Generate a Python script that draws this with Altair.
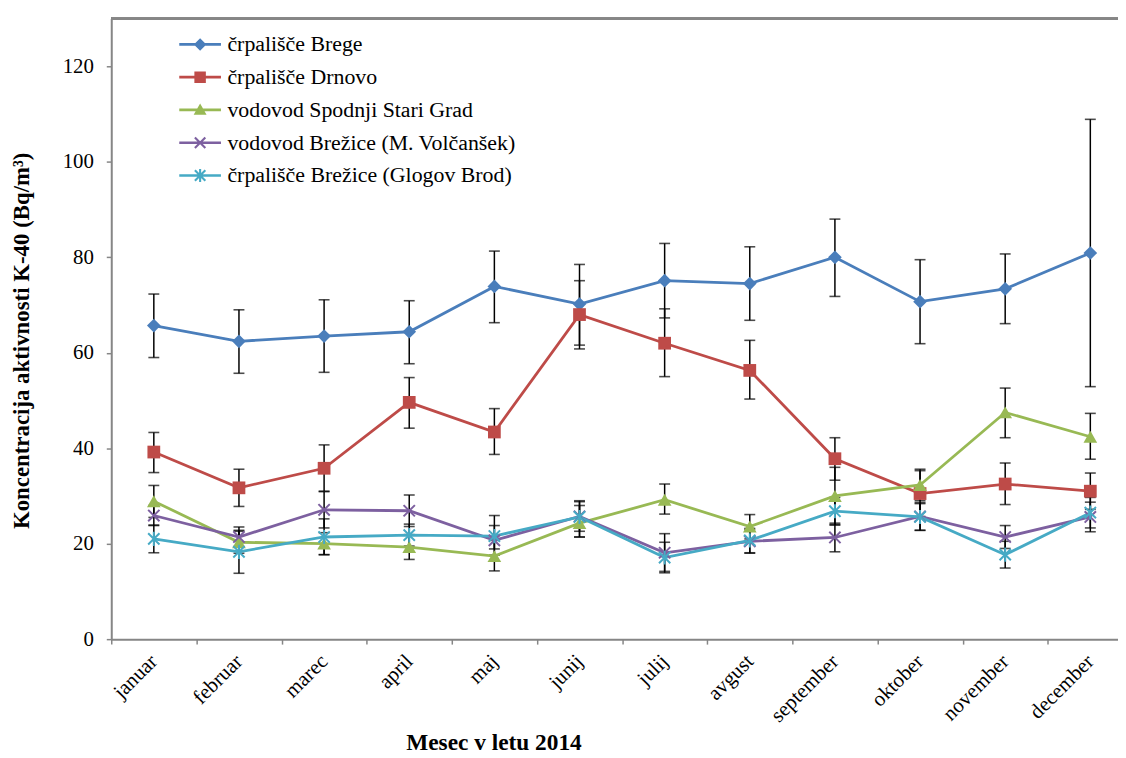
import math
import altair as alt
import pandas as pd

months = ["januar", "februar", "marec", "april", "maj", "junij", "julij",
          "avgust", "september", "oktober", "november", "december"]
series = ["črpališče Brege", "črpališče Drnovo", "vodovod Spodnji Stari Grad",
          "vodovod Brežice (M. Volčanšek)", "črpališče Brežice (Glogov Brod)"]
colors = ["#4A7EBB", "#BE4B48", "#98B954", "#7D60A0", "#46AAC5"]

brege = [65.7, 62.4, 63.5, 64.4, 73.9, 70.2, 75.1, 74.5, 80.0, 70.7, 73.4, 80.9]
brege_lo = [59.0, 55.7, 55.9, 57.7, 66.3, 61.6, 67.3, 66.8, 71.8, 61.9, 66.1, 52.9]
brege_hi = [72.3, 69.0, 71.1, 70.9, 81.3, 78.5, 82.9, 82.2, 88.0, 79.5, 80.7, 108.9]

drnovo = [39.2, 31.7, 35.8, 49.6, 43.4, 68.0, 62.0, 56.3, 37.8, 30.5, 32.5, 31.0]
drnovo_lo = [34.9, 27.8, 31.0, 44.2, 38.7, 60.8, 55.0, 50.3, 33.3, 25.7, 28.2, 27.2]
drnovo_hi = [43.3, 35.6, 40.7, 54.8, 48.3, 75.1, 69.2, 62.6, 42.2, 35.3, 36.9, 34.8]

ssg = [28.9, 20.3, 20.0, 19.3, 17.4, 24.3, 29.2, 23.6, 30.0, 32.3, 47.5, 42.4]
ssg_lo = [25.5, 18.0, 17.7, 16.7, 14.3, 21.4, 26.2, 21.0, 24.0, 29.0, 42.2, 37.7]
ssg_hi = [32.2, 22.6, 22.3, 21.9, 20.7, 28.0, 32.5, 26.1, 36.0, 35.6, 52.6, 47.3]

volc = [25.9, 21.4, 27.1, 26.9, 20.7, 25.7, 18.1, 20.5, 21.3, 25.7, 21.4, 25.6]
volc_lo = [23.8, 19.4, 23.3, 23.6, 17.6, 22.6, 14.2, 18.1, 18.3, 22.8, 19.0, 22.5]
volc_hi = [28.0, 23.5, 30.9, 30.2, 23.8, 28.8, 22.1, 23.0, 24.3, 28.6, 23.8, 28.7]

glog = [21.0, 18.3, 21.4, 21.8, 21.6, 25.6, 17.1, 20.7, 26.8, 25.6, 17.7, 26.5]
glog_lo = [18.1, 13.8, 17.7, 19.5, 18.9, 21.4, 13.9, 18.0, 23.9, 22.8, 14.9, 23.3]
glog_hi = [23.9, 22.8, 25.2, 24.1, 25.9, 29.0, 20.3, 23.2, 29.7, 28.4, 20.5, 29.7]

y_ticks = [0, 20, 40, 60, 80, 100, 120]

vals = [brege, drnovo, ssg, volc, glog]
los = [brege_lo, drnovo_lo, ssg_lo, volc_lo, glog_lo]
his = [brege_hi, drnovo_hi, ssg_hi, volc_hi, glog_hi]

rows = []
for s, v, lo, hi in zip(series, vals, los, his):
    for m, a, b, c in zip(months, v, lo, hi):
        rows.append({"series": s, "month": m, "v": a, "lo": b, "hi": c, "t": 130})
df = pd.DataFrame(rows)

FONT = "Liberation Serif"
GRAY = "#868686"


# ---------- legend symbol paths (line segment + marker) ----------
def poly(pts):
    area = sum(pts[i][0] * pts[(i + 1) % len(pts)][1] - pts[(i + 1) % len(pts)][0] * pts[i][1]
               for i in range(len(pts)))
    if area > 0:
        pts = pts[::-1]
    return "M" + "L".join(f"{x:.3f},{y:.3f}" for x, y in pts) + "Z"


def seg(x0, y0, x1, y1, h):
    dx, dy = x1 - x0, y1 - y0
    L = math.hypot(dx, dy)
    nx, ny = -dy / L * h, dx / L * h
    return poly([(x0 + nx, y0 + ny), (x1 + nx, y1 + ny), (x1 - nx, y1 - ny), (x0 - nx, y0 - ny)])


line_seg = seg(-2, 0, 2, 0, 0.13)
xmark = seg(-0.5, -0.5, 0.5, 0.5, 0.1) + seg(-0.5, 0.5, 0.5, -0.5, 0.1)
legend_paths = [
    line_seg + poly([(-0.6, 0), (0, -0.6), (0.6, 0), (0, 0.6)]),
    line_seg + poly([(-0.55, -0.55), (0.55, -0.55), (0.55, 0.55), (-0.55, 0.55)]),
    line_seg + poly([(0, -0.62), (0.62, 0.46), (-0.62, 0.46)]),
    line_seg + xmark,
    line_seg + xmark + seg(0, -0.62, 0, 0.62, 0.1),
]

marker_shapes = ["diamond", "square", "triangle-up",
                 "M-1,-1L1,1M-1,1L1,-1",
                 "M-1,-1L1,1M-1,1L1,-1M0,-1.25L0,1.25"]
marker_filled = [True, True, True, False, False]
marker_sizes = [190, 165, 190, 130, 130]

color_scale = alt.Scale(domain=series, range=colors)

x_enc = alt.X(
    "month:N", sort=months,
    scale=alt.Scale(type="band", domain=months, range=[0, 1029], paddingInner=0, paddingOuter=0),
    axis=alt.Axis(
        title="Mesec v letu 2014", titleFont=FONT, titleFontSize=23.5, titleFontWeight="bold",
        titleColor="black", titleX=385, titleY=104, titleBaseline="middle", titleAlign="center",
        labelAngle=-45, labelAlign="right", labelBaseline="middle", labelPadding=14,
        labelFont=FONT, labelFontSize=21, labelColor="black",
        tickBand="extent", tickSize=5, tickColor=GRAY, tickWidth=1.5,
        domainColor=GRAY, domainWidth=2, grid=False,
    ),
)


def y_enc(field):
    return alt.Y(
        f"{field}:Q",
        scale=alt.Scale(domain=[0, 130], nice=False),
        axis=alt.Axis(
            values=y_ticks, title="Koncentracija aktivnosti K-40 (Bq/m³)",
            titleFont=FONT, titleFontSize=23, titleFontWeight="bold", titleColor="black",
            titleX=-90, titleY=324, titleAngle=270, titleBaseline="middle", titleAlign="center",
            labelFont=FONT, labelFontSize=21, labelColor="black", labelPadding=13,
            tickSize=5, tickColor=GRAY, tickWidth=1.5, domainColor=GRAY, domainWidth=2,
            grid=False,
        ),
    )


base = alt.Chart(df)

leg = alt.Legend(
    title=None, orient="none", legendX=78.5, legendY=15, direction="vertical",
    symbolSize=441, labelOffset=16.5, labelFont=FONT, labelFontSize=22, labelColor="black",
    rowPadding=11, padding=0, symbolStrokeWidth=0, labelLimit=500, symbolOpacity=1,
)

# empty-data layer that only carries the legend (line + marker symbols)
legend_layer = base.transform_filter("false").mark_point(filled=True, size=441, opacity=1).encode(
    x=x_enc, y=y_enc("v"),
    color=alt.Color("series:N", scale=color_scale, legend=leg),
    shape=alt.Shape("series:N", scale=alt.Scale(domain=series, range=legend_paths), legend=leg),
)

top_border = base.mark_rule(color=GRAY, strokeWidth=2).encode(y=y_enc("t"))

err_rule = base.mark_rule(color="black", strokeWidth=1.5).encode(
    x=x_enc, y=y_enc("lo"), y2="hi:Q")
err_lo = base.mark_tick(color="black", thickness=1.6, size=11).encode(x=x_enc, y=y_enc("lo"))
err_hi = base.mark_tick(color="black", thickness=1.6, size=11).encode(x=x_enc, y=y_enc("hi"))

lines = base.mark_line(strokeWidth=2.8).encode(
    x=x_enc, y=y_enc("v"),
    color=alt.Color("series:N", scale=color_scale, legend=None),
    detail="series:N",
)

marker_layers = []
for s, c, shp, f, sz in zip(series, colors, marker_shapes, marker_filled, marker_sizes):
    mk = base.transform_filter(alt.datum.series == s).mark_point(
        shape=shp, filled=f, color=c, size=sz, opacity=1,
        strokeWidth=2 if not f else 0,
    ).encode(x=x_enc, y=y_enc("v"))
    marker_layers.append(mk)

chart = alt.layer(
    legend_layer, top_border, err_rule, err_lo, err_hi, lines, *marker_layers
).properties(
    width=1014, height=625,
    autosize=alt.AutoSizeParams(type="none"),
    padding={"left": 104, "top": 8, "right": 0, "bottom": 117},
).configure_view(stroke=None).configure(background="white")

chart.save("out.html", embed_options={"renderer": "svg", "actions": False})
